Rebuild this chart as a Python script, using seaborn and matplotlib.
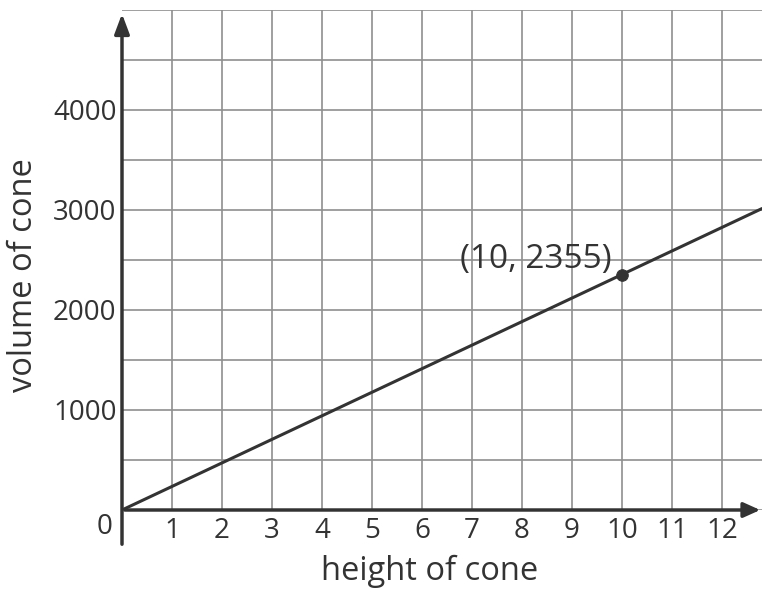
import numpy as np
import pandas as pd
import matplotlib
matplotlib.use('Agg')
import matplotlib.pyplot as plt
import seaborn as sns

# data
heights = [0, 12.8]
volumes = [0, 235.5 * 12.8]
point_x = [10]
point_y = [2355]
point_label = '(10, 2355)'
x_ticks = list(range(1, 13))
y_grid = list(range(0, 5001, 500))
y_labels = [str(v) if v % 1000 == 0 and v > 0 and v < 5000 else '' for v in y_grid]

sns.set_style('white')
plt.rcParams['font.family'] = ['Open Sans', 'DejaVu Sans']

W, H = 762, 590
fig = plt.figure(figsize=(W / 100, H / 100), dpi=100)
ax = fig.add_axes([122 / W, (H - 510) / H, 640 / W, 500 / H])
ax.set_xlim(0, 12.8)
ax.set_ylim(0, 5000)

dark = '#333333'
grid_c = '#8f8f8f'

ax.set_xticks(x_ticks)
ax.set_yticks(y_grid)
ax.set_xticklabels([str(t) for t in x_ticks])
ax.set_yticklabels(y_labels)
ax.grid(True, color=grid_c, linewidth=1.2)
ax.tick_params(length=0, labelsize=20, colors=dark)
ax.tick_params(axis='x', pad=5)
ax.tick_params(axis='y', pad=4)
for s in ax.spines.values():
    s.set_visible(False)

line_df = pd.DataFrame({'height': heights, 'volume': volumes})
sns.lineplot(data=line_df, x='height', y='volume', ax=ax, color=dark, linewidth=2.2)
pt_df = pd.DataFrame({'height': point_x, 'volume': point_y})
sns.scatterplot(data=pt_df, x='height', y='volume', ax=ax, color=dark, s=70, zorder=5, edgecolor=dark)
ax.set_xlabel('')
ax.set_ylabel('')

ax.text(point_x[0] - 0.2, point_y[0] + 150, point_label, ha='right', va='center',
        fontsize=24, color=dark)

# axes with arrows
ax.annotate('', xy=(12.82, 0), xytext=(0, 0), xycoords='data',
            arrowprops=dict(arrowstyle='-|>,head_length=1.0,head_width=0.45', color=dark, lw=2.5),
            annotation_clip=False)
ax.annotate('', xy=(0, 4990), xytext=(0, -370), xycoords='data',
            arrowprops=dict(arrowstyle='-|>,head_length=1.2,head_width=0.45', color=dark, lw=2.5),
            annotation_clip=False)
ax.text(-0.2, -170, '0', ha='right', va='center', fontsize=20, color=dark)

fig.text(430 / W, 1 - 571 / H, 'height of cone', ha='center', va='center', fontsize=23.5, color=dark)
fig.text(24 / W, 1 - 275 / H, 'volume of cone', ha='center', va='center', fontsize=23.5,
         color=dark, rotation=90)

fig.savefig('out.png', dpi=100)
